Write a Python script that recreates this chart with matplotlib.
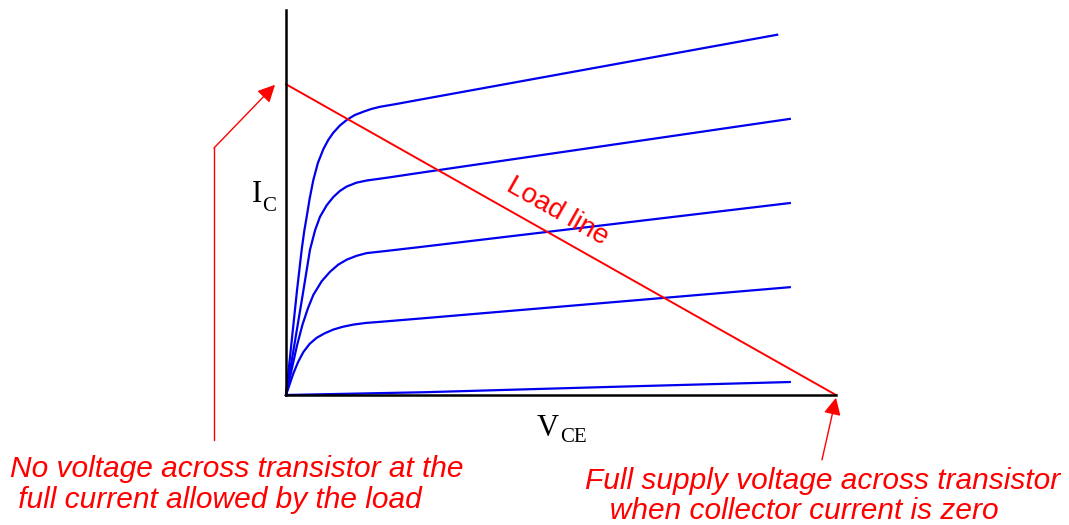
import matplotlib
matplotlib.use("Agg")
import matplotlib.pyplot as plt

# collector characteristic curves (V_CE, I_C)
curve1_v = [0, 0.1, 0.2, 0.285, 0.33, 0.376, 0.43, 0.497, 0.58, 0.679, 0.77, 0.861,
            0.98, 1.103, 1.25, 1.405, 1.55, 1.709, 2.0, 2.436, 8.93]
curve1_i = [0, 0.95, 1.9, 2.64, 2.97, 3.24, 3.57, 3.91, 4.22, 4.47, 4.64, 4.77,
            4.9, 5.0, 5.09, 5.15, 5.2, 5.24, 5.29, 5.37, 6.55]

curve2_v = [0, 0.1, 0.2, 0.3, 0.436, 0.53, 0.618, 0.74, 0.861, 0.98, 1.103,
            1.28, 1.467, 1.831, 2.436, 9.16]
curve2_i = [0, 0.6, 1.2, 1.8, 2.64, 3.0, 3.24, 3.45, 3.60, 3.71, 3.79,
            3.86, 3.90, 3.95, 4.04, 5.02]

curve3_v = [0, 0.1, 0.2, 0.3, 0.4, 0.497, 0.65, 0.8, 0.95, 1.103, 1.28,
            1.467, 1.831, 2.436, 9.16]
curve3_i = [0, 0.45, 0.9, 1.28, 1.58, 1.82, 2.07, 2.24, 2.37, 2.46, 2.53,
            2.58, 2.62, 2.69, 3.49]

curve4_v = [0, 0.133, 0.22, 0.315, 0.43, 0.558, 0.7, 0.861, 1.03, 1.224, 1.45,
            1.709, 2.436, 9.16]
curve4_i = [0, 0.39, 0.6, 0.78, 0.93, 1.04, 1.12, 1.19, 1.24, 1.28, 1.31,
            1.33, 1.39, 1.96]

curve5_v = [0, 1.0, 2.5, 6.0, 9.16]
curve5_i = [0, 0.02, 0.05, 0.15, 0.236]

curves = [(curve1_v, curve1_i), (curve2_v, curve2_i), (curve3_v, curve3_i),
          (curve4_v, curve4_i), (curve5_v, curve5_i)]

# load line: full current at V_CE = 0, zero current at supply voltage
load_v = [0, 10]
load_i = [5.65, 0]

fig = plt.figure(figsize=(10.69, 5.25), dpi=100)
ax = fig.add_axes([286 / 1069, 130 / 525, 550 / 1069, 385 / 525])
ax.set_xlim(0, 10)
ax.set_ylim(0, 7)

for v, i in curves:
    ax.plot(v, i, color="#0000ee", lw=1.6, solid_joinstyle="round", clip_on=False)

ax.plot(load_v, load_i, color="red", lw=1.4, clip_on=False)

ax.spines["top"].set_visible(False)
ax.spines["right"].set_visible(False)
ax.spines["left"].set_linewidth(1.8)
ax.spines["bottom"].set_linewidth(1.8)
ax.set_xticks([])
ax.set_yticks([])

# axis labels
serif = ["Liberation Serif", "DejaVu Serif"]
ax.text(-0.44, 3.64, "I", fontsize=22, family=serif, ha="right", va="center")
ax.text(-0.44, 3.42, "C", fontsize=15, family=serif, ha="left", va="center")
ax.text(4.76, -0.6, "V", fontsize=22, family=serif, ha="center", va="center")
ax.text(4.98, -0.78, "CE", fontsize=15, family=serif, ha="left", va="center")

ax.text(4.93, 3.33, "Load line", color="red", fontsize=20, family="Liberation Sans",
        rotation=-29.5, ha="center", va="center", rotation_mode="anchor")

# arrows to the ends of the load line
ax.plot([-1.31, -1.31], [-0.82, 4.49], color="red", lw=1.0, clip_on=False)
ax.annotate("", xy=(-0.2, 5.64), xytext=(-1.31, 4.49), annotation_clip=False,
            arrowprops=dict(arrowstyle="-|>", color="red", lw=1.0,
                            mutation_scale=26, shrinkA=0, shrinkB=0))
ax.annotate("", xy=(10.0, -0.05), xytext=(9.745, -1.18), annotation_clip=False,
            arrowprops=dict(arrowstyle="-|>", color="red", lw=1.0,
                            mutation_scale=26, shrinkA=0, shrinkB=0))

fig.text(10 / 1069, 1 - 455 / 525,
         "No voltage across transistor at the\n full current allowed by the load",
         color="red", fontsize=21.5, style="italic", family="Liberation Sans",
         ha="left", va="top", linespacing=1.13)
fig.text(585 / 1069, 1 - 467 / 525,
         "Full supply voltage across transistor\n   when collector current is zero",
         color="red", fontsize=21.5, style="italic", family="Liberation Sans",
         ha="left", va="top", linespacing=1.07)

fig.savefig("out.png", dpi=100, facecolor="white")
